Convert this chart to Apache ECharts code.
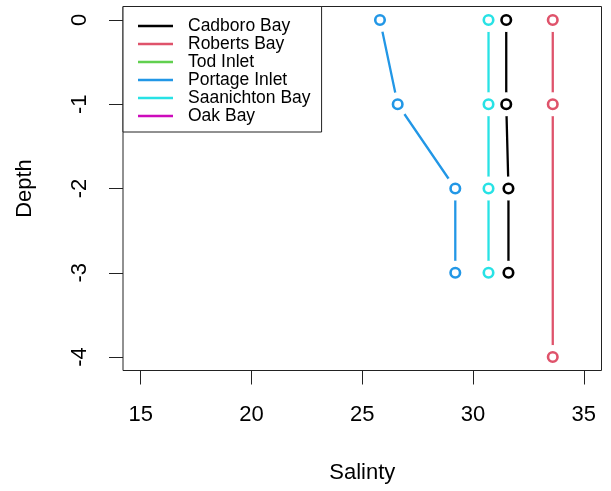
<!DOCTYPE html>
<html>
<head>
<meta charset="utf-8">
<script src="https://cdn.jsdelivr.net/npm/echarts@6/dist/echarts.min.js"></script>
<style>
  html, body { margin: 0; padding: 0; background: #fff; }
  #chart { width: 611px; height: 491px; }
</style>
</head>
<body>
<div id="chart"></div>
<script>
// Salinity profiles by depth for each site
const siteNames = ['Cadboro Bay', 'Roberts Bay', 'Tod Inlet', 'Portage Inlet', 'Saanichton Bay', 'Oak Bay'];
const siteColors = ['#000000', '#DF536B', '#61D04F', '#2297E6', '#28E2E5', '#CD0BBC'];

const cadboroDepth = [0, -1, -2, -3];
const cadboroSalinity = [31.5, 31.5, 31.6, 31.6];
const robertsDepth = [0, -1, -4];
const robertsSalinity = [33.6, 33.6, 33.6];
const todDepth = [];
const todSalinity = [];
const portageDepth = [0, -1, -2, -3];
const portageSalinity = [25.8, 26.6, 29.2, 29.2];
const saanichtonDepth = [0, -1, -2, -3];
const saanichtonSalinity = [30.7, 30.7, 30.7, 30.7];
const oakDepth = [];
const oakSalinity = [];

const xTicks = [15, 20, 25, 30, 35];
const yTicks = [0, -1, -2, -3, -4];

const profiles = [
  [cadboroSalinity, cadboroDepth],
  [robertsSalinity, robertsDepth],
  [todSalinity, todDepth],
  [portageSalinity, portageDepth],
  [saanichtonSalinity, saanichtonDepth],
  [oakSalinity, oakDepth]
];

const FONT = 'Liberation Sans, Arial, sans-serif';

const series = [];
profiles.forEach(([sal, dep], i) => {
  const pts = sal.map((s, k) => [s, dep[k]]);
  // connecting line
  series.push({
    name: siteNames[i], type: 'line', data: pts, z: 2,
    showSymbol: false, color: siteColors[i],
    lineStyle: { width: 2.3, color: siteColors[i] },
    silent: true, animation: false
  });
  // white disks open a gap in the line around each point
  series.push({
    name: siteNames[i] + ' gap', type: 'scatter', data: pts, z: 3,
    symbol: 'circle', symbolSize: 24,
    itemStyle: { color: '#ffffff', opacity: 1 },
    silent: true, animation: false
  });
  // hollow point markers
  series.push({
    name: siteNames[i] + ' pts', type: 'scatter', data: pts, z: 4,
    symbol: 'circle', symbolSize: 9.5,
    itemStyle: { color: '#ffffff', borderColor: siteColors[i], borderWidth: 2.6, opacity: 1 },
    silent: true, animation: false
  });
});

const chart = echarts.init(document.getElementById('chart'), null, { renderer: 'canvas' });
chart.setOption({
  animation: false,
  backgroundColor: '#ffffff',
  grid: {
    left: 123, right: 9.5, top: 6.5, bottom: 120.5,
    show: true, borderColor: '#222', borderWidth: 1, backgroundColor: 'transparent'
  },
  xAxis: {
    type: 'value', min: 14.2, max: 35.8,
    name: 'Salinty', nameLocation: 'middle', nameGap: 91,
    nameTextStyle: { fontFamily: FONT, fontSize: 22, color: '#000' },
    axisLine: { show: false, onZero: false },
    axisTick: { show: true, length: 14, customValues: xTicks, lineStyle: { color: '#222', width: 1 } },
    axisLabel: { customValues: xTicks, margin: 33, fontFamily: FONT, fontSize: 22, color: '#000' },
    splitLine: { show: false }
  },
  yAxis: {
    type: 'value', min: -4.16, max: 0.16,
    name: 'Depth', nameLocation: 'middle', nameGap: 87,
    nameTextStyle: { fontFamily: FONT, fontSize: 22, color: '#000' },
    axisLine: { show: false, onZero: false },
    axisTick: { show: true, length: 14, customValues: yTicks, lineStyle: { color: '#222', width: 1 } },
    axisLabel: { customValues: yTicks, margin: 32, rotate: 90, fontFamily: FONT, fontSize: 22, color: '#000' },
    splitLine: { show: false }
  },
  legend: {
    data: siteNames,
    orient: 'vertical', left: 123, top: 6.5,
    icon: 'rect', itemWidth: 35, itemHeight: 2.5, itemGap: 0,
    padding: [10.5, 11, 7, 15],
    borderColor: '#222', borderWidth: 1, borderRadius: 0,
    backgroundColor: '#ffffff',
    selectedMode: false,
    textStyle: { fontFamily: FONT, fontSize: 17.5, lineHeight: 18, color: '#000', padding: [0, 0, 0, 10] }
  },
  series: series
});
</script>
</body>
</html>
